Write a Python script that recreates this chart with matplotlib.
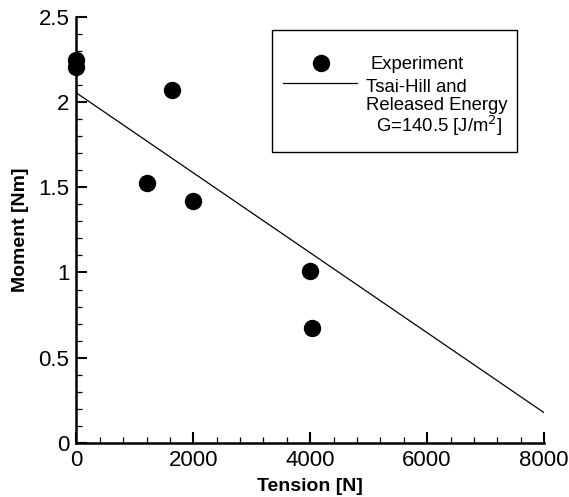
import numpy as np
import matplotlib.pyplot as plt
import matplotlib.patches as patches
from matplotlib.ticker import MultipleLocator, FormatStrFormatter

plt.rcParams['font.family'] = ['Liberation Sans', 'DejaVu Sans']

# 实验数据
tension_exp = [0, 0, 1200, 1630, 2000, 4000, 4035]
moment_exp = [2.245, 2.205, 1.527, 2.07, 1.419, 1.009, 0.676]

# Tsai-Hill 预测线
tension_th = [0, 8000]
moment_th = [2.053, 0.178]

fig = plt.figure(figsize=(5.69, 4.97), dpi=100)
ax = fig.add_axes([0.1343, 0.1087, 0.8218, 0.8577])

ax.plot(tension_th, moment_th, color='black', linewidth=0.9)
ax.plot(tension_exp, moment_exp, 'o', color='black', markersize=11.5,
        clip_on=False, zorder=5)

ax.set_xlim(0, 8000)
ax.set_ylim(0, 2.5)
ax.xaxis.set_major_locator(MultipleLocator(2000))
ax.xaxis.set_minor_locator(MultipleLocator(400))
ax.yaxis.set_major_locator(MultipleLocator(0.5))
ax.yaxis.set_minor_locator(MultipleLocator(0.1))
ax.yaxis.set_major_formatter(FormatStrFormatter('%g'))

for s in ['top', 'right']:
    ax.spines[s].set_visible(False)
for s in ['left', 'bottom']:
    ax.spines[s].set_linewidth(1.8)

ax.tick_params(which='major', direction='in', length=8, width=1.5,
               labelsize=16, pad=5)
ax.tick_params(which='minor', direction='in', length=4.3, width=0.9)

ax.set_xlabel('Tension [N]', fontsize=14, fontweight='bold', labelpad=5)
ax.set_ylabel('Moment [Nm]', fontsize=14, fontweight='bold', labelpad=7)

# 图例（手动绘制，坐标为轴坐标）
tr = ax.transAxes
ax.add_patch(patches.Rectangle((0.4177, 0.6833), 0.9416 - 0.4177, 0.9688 - 0.6833,
                               transform=tr, fill=False, edgecolor='black',
                               linewidth=1.0, clip_on=False))
ax.plot([0.5231], [0.8907], 'o', color='black', markersize=11.5, transform=tr,
        clip_on=False)
ax.plot([0.4412, 0.5994], [0.8452, 0.8452], color='black', linewidth=0.9,
        transform=tr, clip_on=False)
leg_fs = 13.3
ax.text(0.6279, 0.8766, 'Experiment', transform=tr, fontsize=leg_fs, va='baseline')
ax.text(0.6193, 0.8241, 'Tsai-Hill and', transform=tr, fontsize=leg_fs, va='baseline')
ax.text(0.6193, 0.7811, 'Released Energy', transform=tr, fontsize=leg_fs, va='baseline')
ax.text(0.6407, 0.7302, 'G=140.5 [J/m$^2$]', transform=tr, fontsize=leg_fs, va='baseline')

plt.savefig('out.png', dpi=100)
